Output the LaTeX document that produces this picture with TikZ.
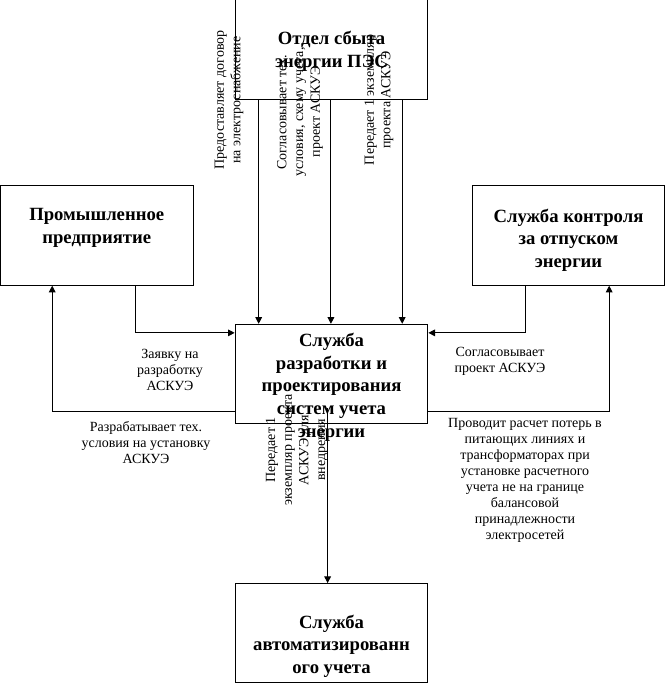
\documentclass[tikz,border=0pt]{standalone}
\usepackage{fontspec}
\setmainfont{Liberation Serif}
\usetikzlibrary{arrows.meta,calc}
\begin{document}
\begin{tikzpicture}[x=0.75pt,y=-0.75pt,
  box/.style={draw, line width=0.75pt, minimum width=144.5pt, minimum height=74.5pt, inner sep=0pt},
  ttl/.style={font=\fontsize{14}{17}\selectfont\bfseries, align=center, inner sep=0pt},
  lbl/.style={font=\fontsize{10.5}{12}\selectfont, align=center, inner sep=0pt},
  rlbl/.style={font=\fontsize{10.5}{12.5}\selectfont, align=center, rotate=90, inner sep=0pt},
  arr/.style={line width=0.75pt, -{Triangle[length=5pt,width=5pt]}},
  ln/.style={line width=0.75pt}]
\useasboundingbox (0,0) rectangle (667,684);
% boxes
\node[box] (t) at (331.5,49.5) {};
\node[box] (l) at (96.75,235.5) {};
\node[box] (r) at (568.5,235.5) {};
\node[box] (c) at (331.5,374) {};
\node[box] (b) at (331.5,633.25) {};
% titles
\node[ttl] (tt) at (331.5,51) {Отдел сбыта\\энергии ПЭС};
\node[ttl] (lt) at (96.75,228) {Промышленное\\предприятие};
\node[ttl] (rt) at (568.5,240) {Служба контроля\\за отпуском\\энергии};
\node[ttl] (ct) at (331.5,387) {Служба\\разработки и\\проектирования\\систем учета\\энергии};
\node[ttl] (bt) at (331.5,646) {Служба\\автоматизированн\\ого учета};
% top connectors
\draw[arr] ($(t.south west)!0.124!(t.south east)$) -- ($(c.north west)!0.124!(c.north east)$);
\draw[arr] ($(t.south west)!0.497!(t.south east)$) -- ($(c.north west)!0.497!(c.north east)$);
\draw[arr] ($(t.south west)!0.865!(t.south east)$) -- ($(c.north west)!0.865!(c.north east)$);
% left connectors
\coordinate (cwi) at ($(c.north west)!0.09!(c.south west)$);
\coordinate (cwo) at ($(c.north west)!0.87!(c.south west)$);
\draw[arr] ($(l.south west)!0.70!(l.south east)$) |- (cwi);
\draw[arr] (cwo) -| ($(l.south west)!0.27!(l.south east)$);
% right connectors
\coordinate (cei) at ($(c.north east)!0.09!(c.south east)$);
\coordinate (ceo) at ($(c.north east)!0.87!(c.south east)$);
\draw[arr] ($(r.south west)!0.28!(r.south east)$) |- (cei);
\draw[arr] (ceo) -| ($(r.south west)!0.71!(r.south east)$);
% bottom connector
\coordinate (cs) at ($(c.north west)!0.48!(c.north east)+(0,84)$);
\draw[arr] (cs) -- (cs |- b.north);
% labels
\node[rlbl] (l1) at (229,100) {Предоставляет договор\\на электроснабжение};
\node[rlbl] (l2) at (300,112) {Согласовывает тех.\\условия, схему учета,\\проект АСКУЭ};
\node[rlbl] (l3) at (379,100) {Передает 1 экземпляр\\проекта АСКУЭ};
\node[rlbl] (l4) at (297,450) {Передает 1\\экземпляр проекта\\АСКУЭ для\\внедрения};
\node[lbl] (l5) at (170,370) {Заявку на\\разработку\\АСКУЭ};
\node[lbl] (l6) at (146,443) {Разрабатывает тех.\\условия на установку\\АСКУЭ};
\node[lbl] (l7) at (500,361) {Согласовывает\\проект АСКУЭ};
\node[lbl] (l8) at (525,480) {Проводит расчет потерь в\\питающих линиях и\\трансформаторах при\\установке расчетного\\учета не на границе\\балансовой\\принадлежности\\электросетей};
\end{tikzpicture}
\end{document}
